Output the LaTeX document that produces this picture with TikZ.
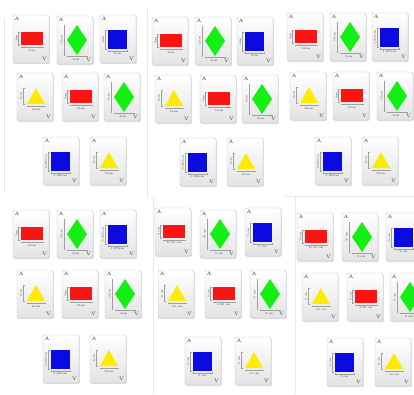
\documentclass[tikz,border=0pt]{standalone}
\usepackage{tikz}
\usetikzlibrary{shadows}
\definecolor{cardred}{RGB}{250,20,20}
\definecolor{cardgreen}{RGB}{20,240,20}
\definecolor{cardblue}{RGB}{10,10,225}
\definecolor{cardyellow}{RGB}{255,235,0}
\tikzset{
  cardbody/.style={draw=gray!45, line width=0.4pt, rounded corners=1.5pt, top color=white, bottom color=gray!22, minimum width=36pt, minimum height=48pt, inner sep=0pt, drop shadow={shadow xshift=0.8pt, shadow yshift=-1pt, fill=gray!50}},
  cornerlbl/.style={font=\fontsize{5}{5}\selectfont, inner sep=0pt, text=black!80},
  dimlbl/.style={font=\fontsize{2.8}{3}\selectfont, inner sep=0pt, text=black!80},
  dimline/.style={draw=gray!75, line width=0.3pt},
  panelline/.style={draw=gray!18, line width=0.6pt},
  pics/redcard/.style 2 args={code={
    \node[cardbody] (-c) at (18,24) {};
    \node[cornerlbl] (-a) at (4,4) {A};
    \node[cornerlbl] (-v) at (31.5,44) {V};
    \fill[cardred] (8,17) rectangle (30,30);
    \draw[dimline] (6.5,17) -- (5.5,17) -- (5.5,30) -- (6.5,30);
    \draw[dimline] (8,31.5) -- (8,32.5) -- (30,32.5) -- (30,31.5);
    \node[dimlbl, rotate=90] (-h) at (3.5,23.5) {#1};
    \node[dimlbl] (-w) at (19,35.2) {#2};
  }},
  pics/greencard/.style 2 args={code={
    \node[cardbody] (-c) at (18,24) {};
    \node[cornerlbl] (-a) at (4,4) {A};
    \node[cornerlbl] (-v) at (31.5,44) {V};
    \fill[cardgreen] (20,9) -- (30,24) -- (20,39) -- (10,24) -- cycle;
    \draw[dimline] (8,9) -- (7,9) -- (7,39) -- (8,39);
    \draw[dimline] (10,39.5) -- (10,40.5) -- (30,40.5) -- (30,39.5);
    \node[dimlbl, rotate=90] (-h) at (4.5,24) {#1};
    \node[dimlbl] (-w) at (19,43.2) {#2};
  }},
  pics/bluecard/.style 2 args={code={
    \node[cardbody] (-c) at (18,24) {};
    \node[cornerlbl] (-a) at (4,4) {A};
    \node[cornerlbl] (-v) at (31.5,44) {V};
    \fill[cardblue] (8,15) rectangle (27,34);
    \draw[dimline] (6.5,15) -- (5.5,15) -- (5.5,34) -- (6.5,34);
    \draw[dimline] (8,35) -- (8,36) -- (27,36) -- (27,35);
    \node[dimlbl, rotate=90] (-h) at (3.2,24.5) {#1};
    \node[dimlbl] (-w) at (17.5,38.7) {#2};
  }},
  pics/yellowcard/.style 2 args={code={
    \node[cardbody] (-c) at (18,24) {};
    \node[cornerlbl] (-a) at (4,4) {A};
    \node[cornerlbl] (-v) at (31.5,44) {V};
    \fill[cardyellow] (19,15) -- (28,31) -- (10,31) -- cycle;
    \draw[dimline] (7.5,15) -- (6.5,15) -- (6.5,31) -- (7.5,31);
    \draw[dimline] (10,32.5) -- (10,33.5) -- (28,33.5) -- (28,32.5);
    \node[dimlbl, rotate=90] (-h) at (4,23) {#1};
    \node[dimlbl] (-w) at (19,36.2) {#2};
  }},
}

\begin{document}
\begin{tikzpicture}[x=1pt, y=-1pt]
  \useasboundingbox (0,0) rectangle (414,394);
  \fill[white] (0,0) rectangle (414,394);
  \clip (0,0) rectangle (414,394);

  % faint slide borders
  \draw[panelline] (4,18) -- (4,192);
  \draw[panelline] (147.5,8) -- (147.5,198);
  \draw[panelline] (153,197) -- (153,394);
  \draw[panelline] (284,196.5) -- (414,196.5);
  \draw[panelline] (295,196.5) -- (295,394);

  % rectangles
  \foreach \n/\x/\y/\vl/\hl in {r1/13/15/3cm/9cm, r2/62/73/5cm/15cm,
      r3/152/17/3cm/9cm, r4/200/75/5cm/15cm,
      r5/287/13/5cm/16cm, r6/333/72/4cm/16cm,
      r7/13/210/5cm/16cm, r8/62/270/4cm/16cm,
      r9/155/208/3 cm/{10,50 cm}, r10/205/270/5 cm/{6,25 cm},
      r11/297/213/3 cm/{10,50 cm}, r12/347/273/5 cm/{6,25 cm}} {
    \pic (\n) at (\x,\y) {redcard={\vl}{\hl}};
  }
  % rhombi
  \foreach \n/\x/\y/\vl/\hl in {g1/57/16/12cm/8cm, g2/104/73/9cm/8cm,
      g3/195/17/12cm/8cm, g4/242/75/9cm/8cm,
      g5/330/13/18cm/9cm, g6/377/72/12cm/8cm,
      g7/57/210/18cm/9cm, g8/105/270/12cm/8cm,
      g9/200/210/10 cm/3 cm, g10/250/270/8 cm/2 cm,
      g11/342/213/10 cm/3 cm, g12/390/273/8 cm/2 cm} {
    \pic (\n) at (\x,\y) {greencard={\vl}{\hl}};
  }
  % squares
  \foreach \n/\x/\y/\vl/\hl in {b1/100/15/6cm/6cm, b2/43/137/{0,480cm}/{0,480cm},
      b3/237/17/6cm/6cm, b4/180/138/{0,480cm}/{0,480cm},
      b5/372/13/{1,375cm}/{1,375cm}, b6/315/137/{0,690cm}/{0,690cm},
      b7/100/210/{1,375cm}/{1,375cm}, b8/43/335/{0,690cm}/{0,690cm},
      b9/245/208/5 cm/5 cm, b10/185/337/5 cm/5 cm,
      b11/386/213/5 cm/5 cm, b12/327/338/5 cm/5 cm} {
    \pic (\n) at (\x,\y) {bluecard={\vl}{\hl}};
  }
  % triangles
  \foreach \n/\x/\y/\vl/\hl in {y1/17/73/8cm/12cm, y2/90/137/6cm/16cm,
      y3/155/75/8cm/12cm, y4/227/138/6cm/16cm,
      y5/290/72/8cm/20cm, y6/362/137/6cm/20cm,
      y7/17/270/8cm/20cm, y8/90/335/6cm/20cm,
      y9/158/270/8 cm/16 cm, y10/235/337/8 cm/10 cm,
      y11/302/273/8 cm/16 cm, y12/375/338/8 cm/10 cm} {
    \pic (\n) at (\x,\y) {yellowcard={\vl}{\hl}};
  }
\end{tikzpicture}
\end{document}
